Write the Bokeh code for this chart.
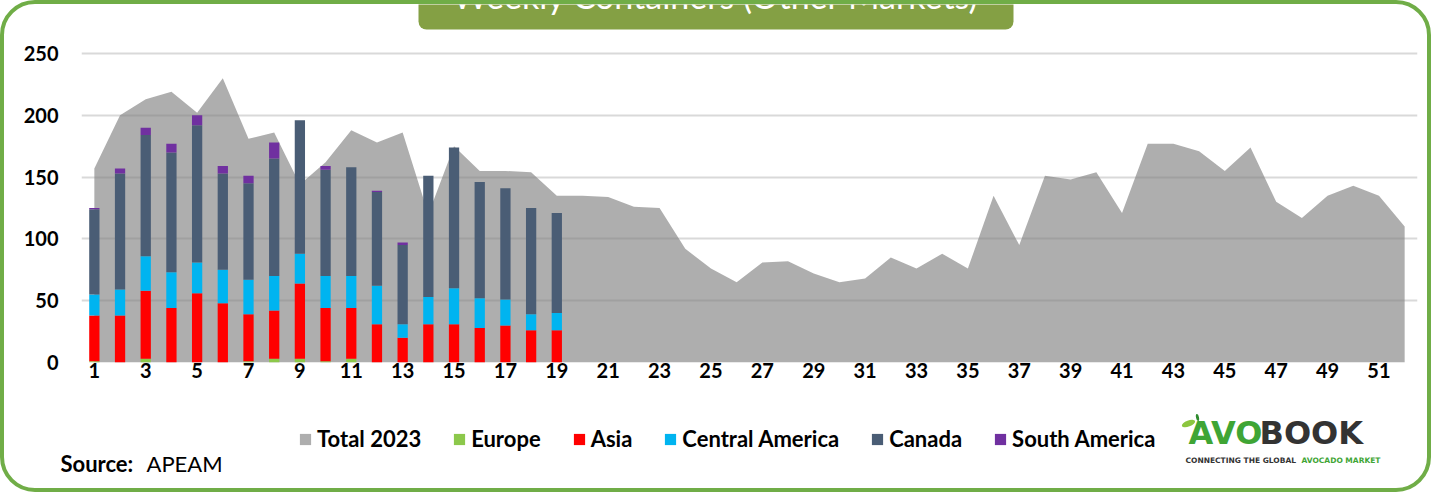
from bokeh.plotting import figure
from bokeh.layouts import column
from bokeh.models import (ColumnDataSource, FixedTicker, Legend, LegendItem, Range1d)
from bokeh.core.properties import value
from bokeh.embed import file_html
from bokeh.resources import INLINE

# ---- data ----
weeks_all = list(range(1, 53))
total_2023 = [157, 200, 213, 219, 202, 230, 181, 186, 144, 162,
              188, 178, 186, 120, 175, 155, 155, 154, 135, 135,
              134, 126, 125, 92, 76, 65, 81, 82, 72, 65,
              68, 85, 76, 88, 76, 135, 95, 151, 148, 154,
              121, 177, 177, 171, 155, 174, 130, 117, 135, 143,
              135, 110]

weeks_2024 = list(range(1, 20))
europe = [1, 0, 3, 0, 0, 0, 1, 3, 3, 1, 3, 0, 0, 0, 0, 0, 0, 0, 0]
asia = [37, 38, 55, 44, 56, 48, 38, 39, 61, 43, 41, 31, 20, 31, 31, 28, 30, 26, 26]
central_america = [17, 21, 28, 29, 25, 27, 28, 28, 24, 26, 26, 31, 11, 22, 29, 24, 21, 13, 14]
canada = [69, 94, 98, 97, 111, 78, 78, 95, 108, 86, 88, 76, 64, 98, 114, 94, 90, 86, 81]
south_america = [1, 4, 6, 7, 8, 6, 6, 13, 0, 3, 0, 1, 2, 0, 0, 0, 0, 0, 0]

x_tick_weeks = list(range(1, 52, 2))
y_ticks = [0, 50, 100, 150, 200, 250]

total_name = "Total 2023"
series_names = ["Europe", "Asia", "Central America", "Canada", "South America"]
series_keys = ["europe", "asia", "central", "canada", "south"]
series_colors = ["#8CC84B", "#FF0000", "#00B4F0", "#4A5D75", "#7030A0"]
area_color = "#808080"
area_alpha = 0.64

title_text = "Weekly Containers (Other Markets)"
source_label = "Source:"
source_name = "APEAM"

src_total = ColumnDataSource(dict(week=weeks_all, total=total_2023))
src_bars = ColumnDataSource(dict(week=weeks_2024, europe=europe, asia=asia,
                                 central=central_america, canada=canada,
                                 south=south_america))

FONT = "Lato"
W = 1423           # inner width (inside 4px border)
MAIN_H = 388
FOOT_H = 96
FRAME_H = 358      # frame spans page y 4..362; 250 gridline at page 53
Y_END = 250 * FRAME_H / 309
NAN = float("nan")

# ---------------- main chart ----------------
p = figure(width=W, height=MAIN_H, x_range=Range1d(0.5, 52.5),
           y_range=Range1d(0, Y_END),
           output_backend="svg", toolbar_location=None,
           min_border_left=77, min_border_right=10,
           min_border_top=0, min_border_bottom=MAIN_H - FRAME_H)
p.frame_align = False
p.outline_line_color = None
p.background_fill_alpha = 0
p.border_fill_alpha = 0

# pixel ranges for the decorative title box (page coordinates)
p.extra_x_ranges = {"px": Range1d(81, 1417)}
p.extra_y_ranges = {"px": Range1d(362, 4)}

area = p.varea(x="week", y1=0, y2="total", source=src_total,
               fill_color=area_color, fill_alpha=area_alpha)

bars = p.vbar_stack(series_keys, x="week", width=0.4, color=series_colors,
                    source=src_bars, line_width=0)

p.xaxis.ticker = FixedTicker(ticks=x_tick_weeks)
p.yaxis.ticker = FixedTicker(ticks=y_ticks)
for ax in (p.xaxis, p.yaxis):
    ax.axis_line_color = None
    ax.major_tick_line_color = None
    ax.minor_tick_line_color = None
    ax.major_tick_out = 0
    ax.major_tick_in = 0
    ax.major_label_text_font = FONT
    ax.major_label_text_font_style = "bold"
    ax.major_label_text_font_size = "20px"
    ax.major_label_text_color = "black"
p.yaxis.major_label_standoff = 23
p.xaxis.major_label_standoff = 0

p.xgrid.grid_line_color = None
p.ygrid.ticker = FixedTicker(ticks=y_ticks)
p.ygrid.grid_line_color = "#D9D9D9"
p.ygrid.grid_line_width = 2

# title box, cut off by the top edge
p.quad(left=[418], right=[1013], top=[-40], bottom=[29],
       x_range_name="px", y_range_name="px",
       fill_color="#84A044", line_color=None, border_radius=8)
p.text(x=[715.5], y=[-5], text=[title_text], x_range_name="px", y_range_name="px",
       text_align="center", text_baseline="alphabetic", text_color="white",
       text_font=value(FONT), text_font_size="34px")

# ---------------- footer: legend, source, logo ----------------
f = figure(width=W, height=FOOT_H, x_range=Range1d(4, 4 + W),
           y_range=Range1d(392 + FOOT_H, 392),
           output_backend="svg", toolbar_location=None,
           x_axis_type=None, y_axis_type=None, min_border=0)
f.frame_align = False
f.outline_line_color = None
f.background_fill_alpha = 0
f.border_fill_alpha = 0
f.grid.visible = False

# legend swatches: renderers with no drawable point, styled like the series
proxy_area = f.vbar(x=[NAN], top=[NAN], width=1, fill_color=area_color,
                    fill_alpha=area_alpha, line_color=None)
proxies = [f.vbar(x=[NAN], top=[NAN], width=1, fill_color=c, line_color=None)
           for c in series_colors]
items = [LegendItem(label=total_name, renderers=[proxy_area])]
for name, r in zip(series_names, proxies):
    items.append(LegendItem(label=name, renderers=[r]))
legend = Legend(items=items, orientation="horizontal", location=(294, 36),
                glyph_width=14, glyph_height=14, label_standoff=5, spacing=31,
                padding=0, margin=0, border_line_color=None,
                background_fill_alpha=0, label_height=14,
                label_text_font=FONT, label_text_font_style="bold",
                label_text_font_size="22px", label_text_color="black")
f.add_layout(legend)

f.text(x=[60], y=[463], text=[source_label], text_font=value(FONT),
       text_font_style="bold", text_font_size="22px", text_color="black",
       text_baseline="alphabetic")
f.text(x=[146], y=[463], text=[source_name], text_font=value(FONT),
       text_font_size="22px", text_color="black", text_baseline="alphabetic")

# logo
f.ellipse(x=[1188], y=[423], width=14, height=6, angle=0.35,
          fill_color="#8CC63F", line_color=None)
f.ellipse(x=[1197], y=[417], width=3, height=7, angle=0.2,
          fill_color="#2E8B2E", line_color=None)
f.text(x=[1188], y=[432], text=["AVO"], text_font=value("DejaVu Sans"),
       text_font_style="bold", text_font_size="32px", text_color="#3FA535",
       text_baseline="alphabetic")
f.text(x=[1259], y=[432], text=["BOOK"], text_font=value("DejaVu Sans"),
       text_font_style="bold", text_font_size="32px", text_color="#333333",
       text_baseline="alphabetic")
f.text(x=[1185], y=[460], text=["CONNECTING THE GLOBAL"], text_font=value("DejaVu Sans"),
       text_font_style="bold", text_font_size="7.5px", text_color="#333333",
       text_baseline="alphabetic")
f.text(x=[1301], y=[460], text=["AVOCADO MARKET"], text_font=value("DejaVu Sans"),
       text_font_style="bold", text_font_size="7.5px", text_color="#3FA535",
       text_baseline="alphabetic")

layout = column(p, f, spacing=0,
                styles={"border": "4px solid #70AD47", "border-radius": "35px",
                        "overflow": "hidden", "background-color": "white"})

open("out.html", "w").write(file_html(layout, INLINE))
